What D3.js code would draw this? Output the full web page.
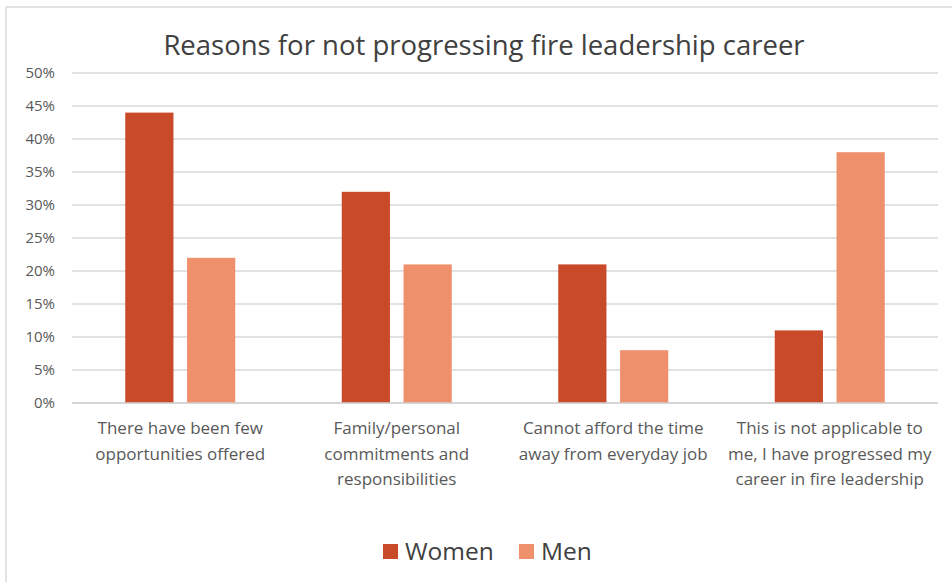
<!DOCTYPE html>
<html><head><meta charset="utf-8">
<script src="https://cdn.jsdelivr.net/npm/d3@7"></script>
<style>body{margin:0;background:#fff;}svg{display:block;}</style>
</head><body>
<svg id="c" width="952" height="582"></svg>
<script>
const categories = [
  ["There have been few", "opportunities offered"],
  ["Family/personal", "commitments and", "responsibilities"],
  ["Cannot afford the time", "away from everyday job"],
  ["This is not applicable to", "me, I have progressed my", "career in fire leadership"]
];
const seriesNames = ["Women", "Men"];
const women = [44, 32, 21, 11];
const men = [22, 21, 8, 38];
const yTicks = [0, 5, 10, 15, 20, 25, 30, 35, 40, 45, 50];
const colors = {Women: "#c84a29", Men: "#ef906c"};

const svg = d3.select("#c");
const font = "'Open Sans', 'Noto Sans', sans-serif";

// frame
svg.append("line").attr("x1", 6).attr("x2", 952).attr("y1", 7).attr("y2", 7).attr("stroke", "#d9d9d9").attr("stroke-width", 1.5);
svg.append("line").attr("x1", 6).attr("x2", 6).attr("y1", 7).attr("y2", 582).attr("stroke", "#d9d9d9").attr("stroke-width", 1.5);

const x0 = d3.scaleBand().domain(d3.range(categories.length)).range([72, 938]).paddingInner(0).paddingOuter(0);
const x1 = d3.scaleBand().domain(seriesNames).range([0, 110]).paddingInner(0.22);
const y = d3.scaleLinear().domain([0, 50]).range([403, 73]);

// gridlines
svg.append("g").selectAll("line").data(yTicks).join("line")
  .attr("x1", 72).attr("x2", 938)
  .attr("y1", d => y(d)).attr("y2", d => y(d))
  .attr("stroke", "#d9d9d9").attr("stroke-width", 1.3);

// y labels
svg.append("g").selectAll("text").data(yTicks).join("text")
  .attr("x", 55).attr("y", d => y(d)).attr("dy", "0.35em")
  .attr("text-anchor", "end").attr("font-family", font).attr("font-size", 15)
  .attr("fill", "#595959").text(d => d + "%");

// bars
const data = categories.map((c, i) => ({i, vals: [{s: "Women", v: women[i]}, {s: "Men", v: men[i]}]}));
const g = svg.append("g").selectAll("g").data(data).join("g")
  .attr("transform", d => `translate(${x0(d.i) + (x0.bandwidth() - 110) / 2},0)`);
g.selectAll("rect").data(d => d.vals).join("rect")
  .attr("x", d => x1(d.s)).attr("width", x1.bandwidth())
  .attr("y", d => y(d.v)).attr("height", d => y(0) - y(d.v))
  .attr("fill", d => colors[d.s]);

// axis line
svg.append("line").attr("x1", 72).attr("x2", 938).attr("y1", y(0)).attr("y2", y(0)).attr("stroke", "#d0d0d0").attr("stroke-width", 1.3);

// category labels
const lab = svg.append("g").selectAll("text").data(categories).join("text")
  .attr("x", (d, i) => x0(i) + x0.bandwidth() / 2).attr("y", 434)
  .attr("text-anchor", "middle").attr("font-family", font).attr("font-size", 17)
  .attr("fill", "#595959");
lab.selectAll("tspan").data(d => d).join("tspan")
  .attr("x", function() { return this.parentNode.getAttribute("x"); })
  .attr("dy", (d, j) => j === 0 ? 0 : 25.5).text(d => d);

// title
svg.append("text").attr("x", 484).attr("y", 55).attr("text-anchor", "middle")
  .attr("font-family", font).attr("font-size", 27.5).attr("fill", "#404040")
  .text("Reasons for not progressing fire leadership career");

// legend
const legX = [383, 519];
const leg = svg.append("g").selectAll("g").data(seriesNames).join("g")
  .attr("transform", (d, i) => `translate(${legX[i]},544)`);
leg.append("rect").attr("width", 15).attr("height", 15).attr("fill", d => colors[d]);
leg.append("text").attr("x", 22).attr("y", 7.5).attr("dy", "0.36em")
  .attr("font-family", font).attr("font-size", 24.5).attr("fill", "#404040").text(d => d);
</script>
</body></html>
